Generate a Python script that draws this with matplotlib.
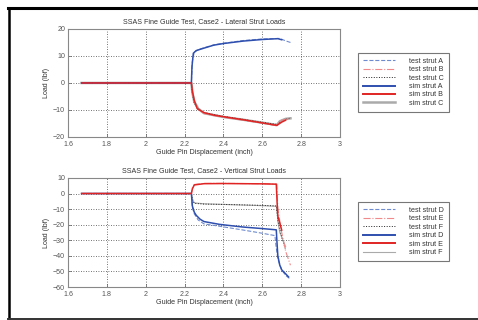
import matplotlib
matplotlib.use("Agg")
import matplotlib.pyplot as plt
from matplotlib.lines import Line2D

plt.rcParams['font.family'] = ['Liberation Sans', 'DejaVu Sans']
plt.rcParams['font.size'] = 5.1
plt.rcParams['text.color'] = '#333333'
plt.rcParams['axes.labelcolor'] = '#333333'
plt.rcParams['xtick.color'] = '#555555'
plt.rcParams['ytick.color'] = '#555555'

# ---- lateral strut loads (top) ----
testA_x = [1.67, 2.235, 2.24, 2.25, 2.28, 2.35, 2.40, 2.50, 2.60, 2.69, 2.72, 2.745]
testA_y = [0, 0, 8, 11.5, 12.6, 14.1, 14.7, 15.7, 16.3, 16.5, 15.6, 15.0]
testB_x = [1.67, 2.235, 2.24, 2.25, 2.27, 2.30, 2.35, 2.40, 2.50, 2.60, 2.67, 2.70, 2.74]
testB_y = [0, 0, -4, -7, -10, -11.3, -12.1, -12.7, -13.8, -14.9, -15.8, -13.8, -13.2]
testC_x = [1.67, 2.235, 2.24, 2.25, 2.27, 2.30, 2.40, 2.50, 2.60, 2.68, 2.70, 2.745]
testC_y = [0, 0, -4, -7.5, -9.8, -11, -12.4, -13.5, -14.6, -15.4, -13.9, -13.0]
simA_x = [1.67, 2.235, 2.238, 2.245, 2.26, 2.30, 2.35, 2.40, 2.50, 2.60, 2.68, 2.70]
simA_y = [0, 0, 6, 11, 12, 12.9, 14.0, 14.6, 15.5, 16.1, 16.4, 16.0]
simB_x = [1.67, 2.235, 2.24, 2.25, 2.265, 2.30, 2.35, 2.40, 2.50, 2.60, 2.675, 2.70, 2.72]
simB_y = [0, 0, -3, -6.5, -9.5, -11, -11.9, -12.5, -13.6, -14.8, -15.7, -14.5, -13.8]
simC_x = [1.67, 2.235, 2.24, 2.25, 2.27, 2.30, 2.40, 2.50, 2.60, 2.675, 2.69, 2.72, 2.745]
simC_y = [0, 0, -3.5, -7, -9.5, -11.2, -12.6, -13.6, -14.7, -15.6, -14.2, -13.3, -13.1]

# ---- vertical strut loads (bottom) ----
testD_x = [1.67, 2.235, 2.24, 2.25, 2.27, 2.30, 2.38, 2.50, 2.60, 2.665, 2.67, 2.68, 2.70, 2.72, 2.745]
testD_y = [0, 0, -9, -13, -17, -19.5, -21, -23.4, -25.5, -27, -33, -42, -49, -52.5, -55]
testE_x = [1.67, 2.235, 2.24, 2.25, 2.30, 2.40, 2.50, 2.60, 2.675, 2.68, 2.70, 2.72, 2.745]
testE_y = [0, 0, 3.5, 5.8, 6.5, 6.5, 6.4, 6.3, 6.0, -10, -25, -37, -46]
testF_x = [1.67, 2.235, 2.24, 2.25, 2.30, 2.40, 2.50, 2.60, 2.672, 2.68, 2.70, 2.72]
testF_y = [0, 0, -3.5, -6.3, -6.8, -7, -7.3, -7.6, -8, -17, -28, -36]
simD_x = [1.67, 2.235, 2.24, 2.25, 2.26, 2.28, 2.30, 2.38, 2.50, 2.60, 2.672, 2.675, 2.68, 2.69, 2.70, 2.72, 2.735]
simD_y = [0, 0, -8, -12, -14, -16.5, -18, -19.8, -21.5, -22.5, -23.3, -30, -40, -46, -49, -51.5, -53.5]
simE_x = [1.67, 2.235, 2.24, 2.25, 2.30, 2.40, 2.50, 2.60, 2.672, 2.676, 2.68, 2.69, 2.70]
simE_y = [0, 0, 3, 5.5, 6.3, 6.4, 6.3, 6.2, 6.0, -5, -14.5, -19, -23.5]
simF_x = [1.67, 2.235, 2.24, 2.25, 2.30, 2.40, 2.50, 2.60, 2.675, 2.68, 2.69, 2.72]
simF_y = [0, 0, -4, -6, -6.6, -7, -7.4, -7.8, -8.2, -18, -25, -34]

xticks = [1.6, 1.8, 2.0, 2.2, 2.4, 2.6, 2.8, 3.0]
xticklabels = ['1.6', '1.8', '2', '2.2', '2.4', '2.6', '2.8', '3']

blue = '#2f4fae'
lblue = '#6f8bd0'
red = '#e02424'
pink = '#f08a8a'
grey = '#aaaaaa'

fig = plt.figure(figsize=(4.78, 3.2), dpi=100)

ax1 = fig.add_axes([0.1423, 0.572, 0.569, 0.3375])
ax2 = fig.add_axes([0.1423, 0.103, 0.569, 0.341])


def style(ax, ylim, yticks, title):
    ax.set_xlim(1.6, 3.0)
    ax.set_ylim(*ylim)
    ax.set_xticks(xticks)
    ax.set_xticklabels(xticklabels)
    ax.set_yticks(yticks)
    ax.grid(True, color='#444444', linestyle=(0, (1, 2)), linewidth=0.6)
    ax.tick_params(direction='in', length=2, width=0.5, labelsize=5.1)
    ax.tick_params(axis='x', pad=3)
    ax.tick_params(axis='y', pad=2)
    for s in ax.spines.values():
        s.set_color('#888888')
        s.set_linewidth(0.8)
    ax.set_title(title, fontsize=5.1, pad=4)
    ax.set_xlabel('Guide Pin Displacement (inch)', fontsize=5.1, labelpad=0.5)
    ax.set_ylabel('Load (lbf)', fontsize=5.1, labelpad=2)


# top
ax1.plot(simC_x, simC_y, color=grey, lw=1.8, zorder=2)
ax1.plot(testC_x, testC_y, color='#222222', lw=0.7, ls=':', zorder=3)
ax1.plot(testA_x, testA_y, color=lblue, lw=0.8, ls='--', zorder=3)
ax1.plot(testB_x, testB_y, color=pink, lw=0.8, ls='-.', zorder=3)
ax1.plot(simA_x, simA_y, color=blue, lw=1.1, zorder=4)
ax1.plot(simB_x, simB_y, color=red, lw=1.1, zorder=4)
style(ax1, (-20, 20), [-20, -10, 0, 10, 20],
      'SSAS Fine Guide Test, Case2 - Lateral Strut Loads')

# bottom
ax2.plot(simF_x, simF_y, color=grey, lw=0.8, zorder=2)
ax2.plot(testF_x, testF_y, color='#222222', lw=0.7, ls=':', zorder=3)
ax2.plot(testD_x, testD_y, color=lblue, lw=0.8, ls='--', zorder=3)
ax2.plot(testE_x, testE_y, color=pink, lw=0.8, ls='-.', zorder=3)
ax2.plot(simD_x, simD_y, color=blue, lw=1.1, zorder=4)
ax2.plot(simE_x, simE_y, color=red, lw=1.1, zorder=4)
style(ax2, (-60, 10), [-60, -50, -40, -30, -20, -10, 0, 10],
      'SSAS Fine Guide Test, Case2 - Vertical Strut Loads')


def make_legend(letters, anchor, simlast_lw):
    handles = [
        Line2D([], [], color=lblue, lw=0.8, ls='--'),
        Line2D([], [], color=pink, lw=0.8, ls='-.'),
        Line2D([], [], color='#222222', lw=0.7, ls=':'),
        Line2D([], [], color=blue, lw=1.4),
        Line2D([], [], color=red, lw=1.4),
        Line2D([], [], color=grey, lw=simlast_lw),
    ]
    labels = ['test strut ' + letters[0], 'test strut ' + letters[1], 'test strut ' + letters[2],
              'sim strut ' + letters[0], 'sim strut ' + letters[1], 'sim strut ' + letters[2]]
    leg = fig.legend(handles, labels, loc='upper left', bbox_to_anchor=anchor,
                     fontsize=5.1, handlelength=4.6, handletextpad=2.0,
                     labelspacing=0.2, borderpad=0.7, fancybox=False,
                     edgecolor='#777777', framealpha=1)
    leg.get_frame().set_linewidth(0.8)
    return leg


make_legend('ABC', (0.741, 0.846), 1.8)
make_legend('DEF', (0.741, 0.380), 0.8)

# outer frame
fig.add_artist(Line2D([8 / 478, 1], [1 - 7.5 / 320] * 2, color='black', lw=2.2, transform=fig.transFigure))
fig.add_artist(Line2D([8.5 / 478] * 2, [1 - 7.5 / 320, 1 - 318.5 / 320], color='black', lw=1.8, transform=fig.transFigure))
fig.add_artist(Line2D([8 / 478, 1], [1 - 318.5 / 320] * 2, color='#333333', lw=1.4, transform=fig.transFigure))

fig.savefig('out.png', dpi=100)
